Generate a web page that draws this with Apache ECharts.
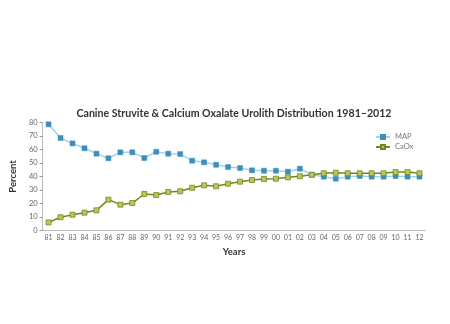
<!DOCTYPE html>
<html><head><meta charset="utf-8">
<script src="https://cdn.jsdelivr.net/npm/echarts@6/dist/echarts.min.js"></script>
<style>html,body{margin:0;padding:0;background:#fff}#c{width:450px;height:324px}</style>
</head><body><div id="c"></div>
<script>
var years = ['81','82','83','84','85','86','87','88','89','90','91','92','93','94','95','96','97','98','99','00','01','02','03','04','05','06','07','08','09','10','11','12'];
var mapValues = [78.5,68.4,64.4,60.8,56.8,53.4,57.8,57.8,53.6,58.2,56.8,56.5,51.6,50.4,48.6,46.9,46.2,44.5,44.2,44.2,43.5,45.7,41.2,39.8,38.3,39.8,40.3,39.8,39.8,40.3,39.8,39.8];
var caoxValues = [6,9.8,11.7,13.2,14.9,22.8,19.1,20.3,27,26.2,28.5,29,31.6,33.4,32.7,34.6,36.1,37.3,38.1,38.3,39.3,40.1,41.2,42.3,42.7,42.3,42.3,42.3,42.3,43.2,43.2,42.3];
var yTicks = [0,10,20,30,40,50,60,70,80];

var chart = echarts.init(document.getElementById('c'), null, {renderer:'canvas'});
chart.setOption({
  animation:false,
  backgroundColor:'#fff',
  title:{text:'Canine Struvite & Calcium Oxalate Urolith Distribution 1981\u20132012',
    left:234, textAlign:'center', top:108, padding:0,
    textStyle:{fontFamily:'Lato', fontSize:10.6, fontWeight:'bold', color:'#333'}},
  legend:{orient:'vertical', left:375, top:133, itemWidth:14, itemHeight:5, itemGap:2, padding:0,
    textStyle:{fontFamily:'Lato', fontSize:7.5, color:'#777'},
    data:['MAP','CaOx']},
  grid:{left:35.5, right:24.5, top:122.3, bottom:93.5, containLabel:false},
  xAxis:{type:'category', data:years, boundaryGap:true,
    name:'Years', nameLocation:'middle', nameGap:16,
    nameTextStyle:{fontFamily:'Lato', fontSize:9.5, fontWeight:'bold', color:'#333'},
    axisLine:{lineStyle:{color:'#bbb', width:1}},
    axisTick:{inside:true, length:3, lineStyle:{color:'#999'}},
    axisLabel:{fontFamily:'Lato', fontSize:7, color:'#666', margin:4, interval:0}},
  yAxis:{type:'value', min:0, max:80, interval:10,
    name:'Percent', nameLocation:'middle', nameGap:17, nameRotate:90,
    nameTextStyle:{fontFamily:'Lato', fontSize:9.5, fontWeight:'bold', color:'#333'},
    axisLine:{show:true, lineStyle:{color:'#bbb', width:1}},
    axisTick:{show:true, length:3, lineStyle:{color:'#999'}},
    splitLine:{show:false},
    axisLabel:{fontFamily:'Lato', fontSize:7.5, color:'#666', margin:5,
      formatter:function(v){return yTicks.indexOf(v)>=0?String(v):'';}}},
  series:[
    {name:'MAP', type:'line', data:mapValues, symbol:'rect', symbolSize:5,
      lineStyle:{color:'#9fd4ef', width:1.5},
      itemStyle:{color:'#3d8fb8', borderColor:'#3d8fb8', borderWidth:0.5}},
    {name:'CaOx', type:'line', data:caoxValues, symbol:'rect', symbolSize:5,
      lineStyle:{color:'#6e8a1e', width:1.5},
      itemStyle:{color:'#b8c561', borderColor:'#6e8a1e', borderWidth:0.8}}
  ]
});
</script></body></html>
